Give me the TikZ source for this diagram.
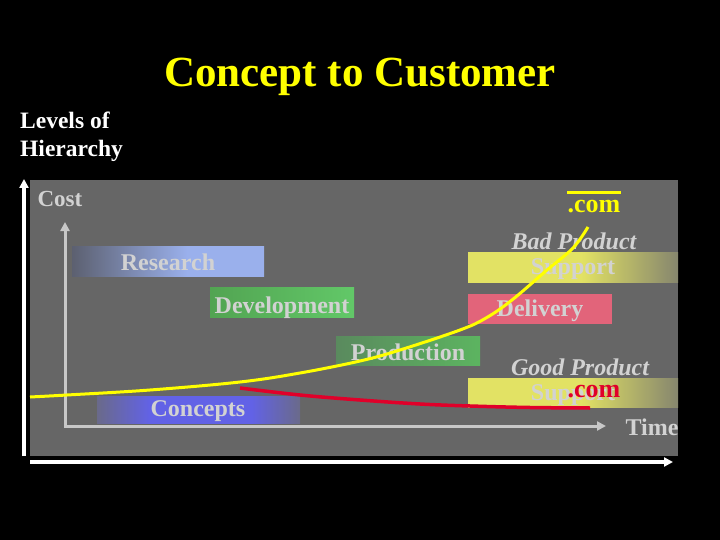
\documentclass[tikz,border=0pt]{standalone}
\usepackage{fontspec}
\setmainfont{Liberation Serif}
\usetikzlibrary{arrows.meta}
\definecolor{panel}{HTML}{666666}
\definecolor{txtgray}{HTML}{D2D2D2}
\definecolor{axisgray}{HTML}{C8C8C8}
\definecolor{titleyel}{HTML}{FFFF00}
\definecolor{redge}{HTML}{5C6070}
\definecolor{rblue}{HTML}{9AB0EC}
\definecolor{cedge}{HTML}{6A6A8A}
\definecolor{cblue}{HTML}{6262E6}
\definecolor{syel}{HTML}{E2E264}
\definecolor{sgr}{HTML}{86866E}
\definecolor{devl}{HTML}{52A452}
\definecolor{devr}{HTML}{62C868}
\definecolor{prodl}{HTML}{5A8A5E}
\definecolor{prodr}{HTML}{5CB460}
\definecolor{deliv}{HTML}{E2647A}
\definecolor{curvered}{HTML}{E0002A}
\pgfdeclarehorizontalshading{ressh}{100bp}{color(0bp)=(redge); color(25bp)=(redge); color(55bp)=(rblue); color(100bp)=(rblue)}
\pgfdeclarehorizontalshading{conceptsh}{100bp}{color(0bp)=(cedge); color(25bp)=(cedge); color(38bp)=(cblue); color(63bp)=(cblue); color(75bp)=(cedge); color(100bp)=(cedge)}
\pgfdeclarehorizontalshading{suppsh}{100bp}{color(0bp)=(syel); color(25bp)=(syel); color(52bp)=(syel); color(75bp)=(sgr); color(100bp)=(sgr)}
\tikzset{
  bar/.style={inner sep=0pt, draw=none},
  lbl/.style={text=txtgray, font=\fontsize{24}{28}\selectfont\bfseries, anchor=base, inner sep=0pt},
  ilbl/.style={lbl, font=\fontsize{24}{28}\selectfont\bfseries\itshape},
  sidelbl/.style={anchor=base west, text=white, font=\fontsize{23.5}{27}\selectfont\bfseries, inner sep=0pt},
  outeraxis/.style={white, line width=3.5pt, -{Triangle[length=9pt,width=9pt]}},
  inneraxis/.style={axisgray, line width=3pt, {Triangle[length=9pt,width=9pt]}-{Triangle[length=9pt,width=9pt]}},
}
\begin{document}
\begin{tikzpicture}[x=1pt,y=-1pt]
\fill[black] (0,0) rectangle (720,540);
\useasboundingbox (0,0) rectangle (720,540);
% title and side label
\node[anchor=base, text=titleyel, font=\fontsize{43}{48}\selectfont\bfseries, inner sep=0pt] (title) at (360,87) {Concept to Customer};
\node[sidelbl] (lev1) at (20,129) {Levels of};
\node[sidelbl] (lev2) at (20,157) {Hierarchy};
% panel
\node[bar, fill=panel, minimum width=648pt, minimum height=276pt] (panel) at (354,318) {};
% outer axes
\coordinate (o) at (24,456);
\coordinate (ytop) at (24,179);
\coordinate (xo) at (30,462);
\coordinate (xend) at (673,462);
\draw[outeraxis] (o) -- (ytop);
\draw[outeraxis] (xo) -- (xend);
% inner axes
\coordinate (iy) at (65,222);
\coordinate (io) at (65,426);
\coordinate (ix) at (606,426);
\draw[inneraxis] (iy) -- (io) -- (ix);
% bars
\node[bar, shading=ressh, minimum width=192pt, minimum height=30pt] (research) at (168,261) {};
\node[bar, left color=devl, right color=devr, minimum width=144pt, minimum height=30pt] (devel) at (282,302) {};
\node[bar, left color=prodl, right color=prodr, minimum width=144pt, minimum height=29pt] (prod) at (408,350.5) {};
\node[bar, shading=conceptsh, minimum width=203pt, minimum height=27pt] (concepts) at (198.5,409.5) {};
\node[bar, shading=suppsh, minimum width=210pt, minimum height=30pt] (badsup) at (573,267) {};
\node[bar, fill=deliv, minimum width=144pt, minimum height=30pt] (deliv) at (540,309) {};
\node[bar, shading=suppsh, minimum width=210pt, minimum height=29pt] (goodsup) at (573,392.5) {};
% labels
\node[lbl, font=\fontsize{23}{28}\selectfont\bfseries] (cost) at (60,207) {Cost};
\node[lbl] (tres) at (168,270) {Research};
\node[lbl] (tdev) at (282,313) {Development};
\node[lbl] (tprod) at (408,360) {Production};
\node[lbl] (tconc) at (198,416) {Concepts};
\node[ilbl] (tbad) at (574,249) {Bad Product};
\node[lbl] (tbsup) at (573,274) {Support};
\node[lbl] (tdeliv) at (540,316) {Delivery};
\node[ilbl] (tgood) at (580,375) {Good Product};
\node[lbl] (tgsup) at (573,400) {Support};
\node[lbl] (time) at (652,435) {Time};
% .com labels
\node[anchor=base, inner sep=0pt, text=titleyel, font=\fontsize{26}{30}\selectfont\bfseries] (dctop) at (594,212) {.com};
\draw[titleyel, line width=2.5pt] ([yshift=7pt]dctop.north west) -- ([yshift=7pt]dctop.north east);
% curves
\draw[curvered, line width=3.5pt] plot[smooth, tension=0.6] coordinates {(240,388) (300,395) (360,400) (420,404) (470,406) (530,407.5) (590,408)};
\node[anchor=base, inner sep=0pt, text=curvered, font=\fontsize{26}{30}\selectfont\bfseries] (dcred) at (594,397) {.com};
\draw[titleyel, line width=3pt] plot[smooth, tension=0.6] coordinates {(30,397) (67,395) (150,390) (240,382) (300,373) (360,361) (400,350) (460,330) (486,318) (512,300) (547,270) (573,248) (588,227)};
\end{tikzpicture}
\end{document}
